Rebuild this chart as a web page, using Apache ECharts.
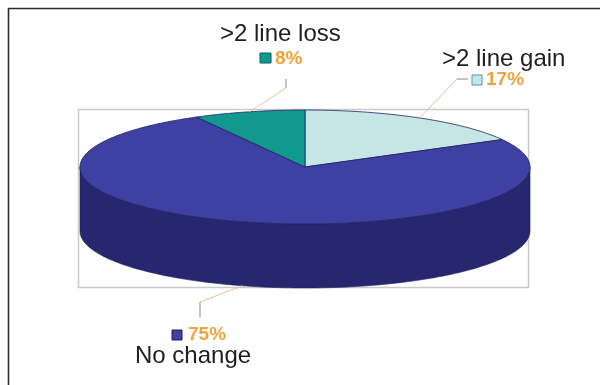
<!DOCTYPE html>
<html>
<head>
<meta charset="utf-8">
<title>Line change distribution</title>
<script src="https://cdn.jsdelivr.net/npm/echarts@6/dist/echarts.min.js"></script>
<style>
  html, body { margin: 0; padding: 0; background: #ffffff; }
  #chart { width: 607px; height: 385px; }
</style>
</head>
<body>
<div id="chart"></div>
<script>
// Slices, clockwise from 12 o'clock
const categories = ['>2 line gain', 'No change', '>2 line loss'];
const values = [17, 75, 8];
const percentLabels = ['17%', '75%', '8%'];

// Colours of the top faces and the outer walls
const topColors = ['#c6e6e6', '#3f40a4', '#12998f'];
const sideColors = ['#93b9b9', '#26276e', '#0b6a64'];

// Tilted-disc geometry (ellipse centre, radii, wall height)
const PIE = { cx: 305, cy: 167, rx: 225, ry: 57, depth: 64 };

const total = values.reduce((s, v) => s + v, 0);
const starts = [];
const ends = [];
let acc = 0;
values.forEach((v) => {
  starts.push(acc / total * 360);
  acc += v;
  ends.push(acc / total * 360);
});

// Angle in degrees, measured clockwise from the top
function pt(a, dz) {
  const r = a * Math.PI / 180;
  return [PIE.cx + PIE.rx * Math.sin(r), PIE.cy - PIE.ry * Math.cos(r) + dz];
}
function arcPts(a0, a1, dz) {
  const n = Math.max(2, Math.ceil(Math.abs(a1 - a0)));
  const pts = [];
  for (let i = 0; i <= n; i++) pts.push(pt(a0 + (a1 - a0) * i / n, dz));
  return pts;
}

// Outer wall: only the front half (90..270 deg) is visible
function renderSide(params) {
  const i = params.dataIndex;
  const lo = Math.max(starts[i], 90);
  const hi = Math.min(ends[i], 270);
  if (lo >= hi) return { type: 'group', children: [] };
  const points = arcPts(lo, hi, 0).concat(arcPts(hi, lo, PIE.depth));
  return {
    type: 'polygon',
    shape: { points },
    style: { fill: sideColors[i], stroke: '#1e1f5c', lineWidth: 0.6 }
  };
}

function renderTop(params) {
  const i = params.dataIndex;
  const points = [[PIE.cx, PIE.cy]].concat(arcPts(starts[i], ends[i], 0));
  return {
    type: 'polygon',
    shape: { points },
    style: { fill: topColors[i], stroke: '#202060', lineWidth: 0.8 }
  };
}

// Label layout for each slice: name text, key square, percentage, leader bends
const labelLayout = [
  { name: [442, 59], key: [472, 75, 10, 10], keyStroke: '#4f8fc0', pct: [486, 80],
    bend: [[457, 79], [468, 79]], onWall: false },
  { name: [135, 356], key: [172, 330, 10, 10], keyStroke: '#1d1d5a', pct: [188, 335],
    bend: [[200, 302], [200, 317]], onWall: true },
  { name: [220, 34], key: [260, 53, 11, 10], keyStroke: '#0a5f5a', pct: [275, 58.5],
    bend: [[286, 88], [286, 79]], onWall: false }
];

const FONT = '"Liberation Sans", Arial, Helvetica, sans-serif';
const graphics = [
  // outer frame (left and top edges)
  { type: 'polyline', z: 1, shape: { points: [[8.5, 385], [8.5, 8.5], [600, 8.5]] },
    style: { stroke: '#2a2a2a', lineWidth: 1.6, fill: null } },
  // plot-area rectangle behind the pie
  { type: 'rect', z: 0, shape: { x: 78.5, y: 109.5, width: 450, height: 178 },
    style: { fill: 'none', stroke: '#c9c9c9', lineWidth: 1.5 } }
];

categories.forEach((name, i) => {
  const L = labelLayout[i];
  const mid = (starts[i] + ends[i]) / 2;
  const anchor = pt(mid, L.onWall ? PIE.depth : 0);
  graphics.push({
    type: 'polyline', z: 10,
    shape: { points: [anchor, L.bend[0]] },
    style: { stroke: '#e2c49a', lineWidth: 1, fill: null }
  });
  graphics.push({
    type: 'polyline', z: 10,
    shape: { points: [L.bend[0], L.bend[1]] },
    style: { stroke: '#8a8a8a', lineWidth: 1, fill: null }
  });
  graphics.push({
    type: 'rect', z: 10,
    shape: { x: L.key[0], y: L.key[1], width: L.key[2], height: L.key[3] },
    style: { fill: topColors[i], stroke: L.keyStroke, lineWidth: 1 }
  });
  graphics.push({
    type: 'text', z: 10, x: L.pct[0], y: L.pct[1],
    style: { text: percentLabels[i], fill: '#f0a23c', font: 'bold 19px ' + FONT,
      align: 'left', verticalAlign: 'middle' }
  });
  graphics.push({
    type: 'text', z: 10, x: L.name[0], y: L.name[1],
    style: { text: name, fill: '#1e1e1e', font: '24px ' + FONT,
      align: 'left', verticalAlign: 'middle' }
  });
});

const chart = echarts.init(document.getElementById('chart'), null, { renderer: 'canvas' });
chart.setOption({
  backgroundColor: '#ffffff',
  animation: false,
  graphic: { elements: graphics },
  series: [
    { type: 'custom', name: 'walls', coordinateSystem: 'none', z: 2,
      renderItem: renderSide, data: values.map((v, i) => [i, v]) },
    { type: 'custom', name: 'tops', coordinateSystem: 'none', z: 3,
      renderItem: renderTop, data: values.map((v, i) => [i, v]) }
  ]
});
</script>
</body>
</html>
